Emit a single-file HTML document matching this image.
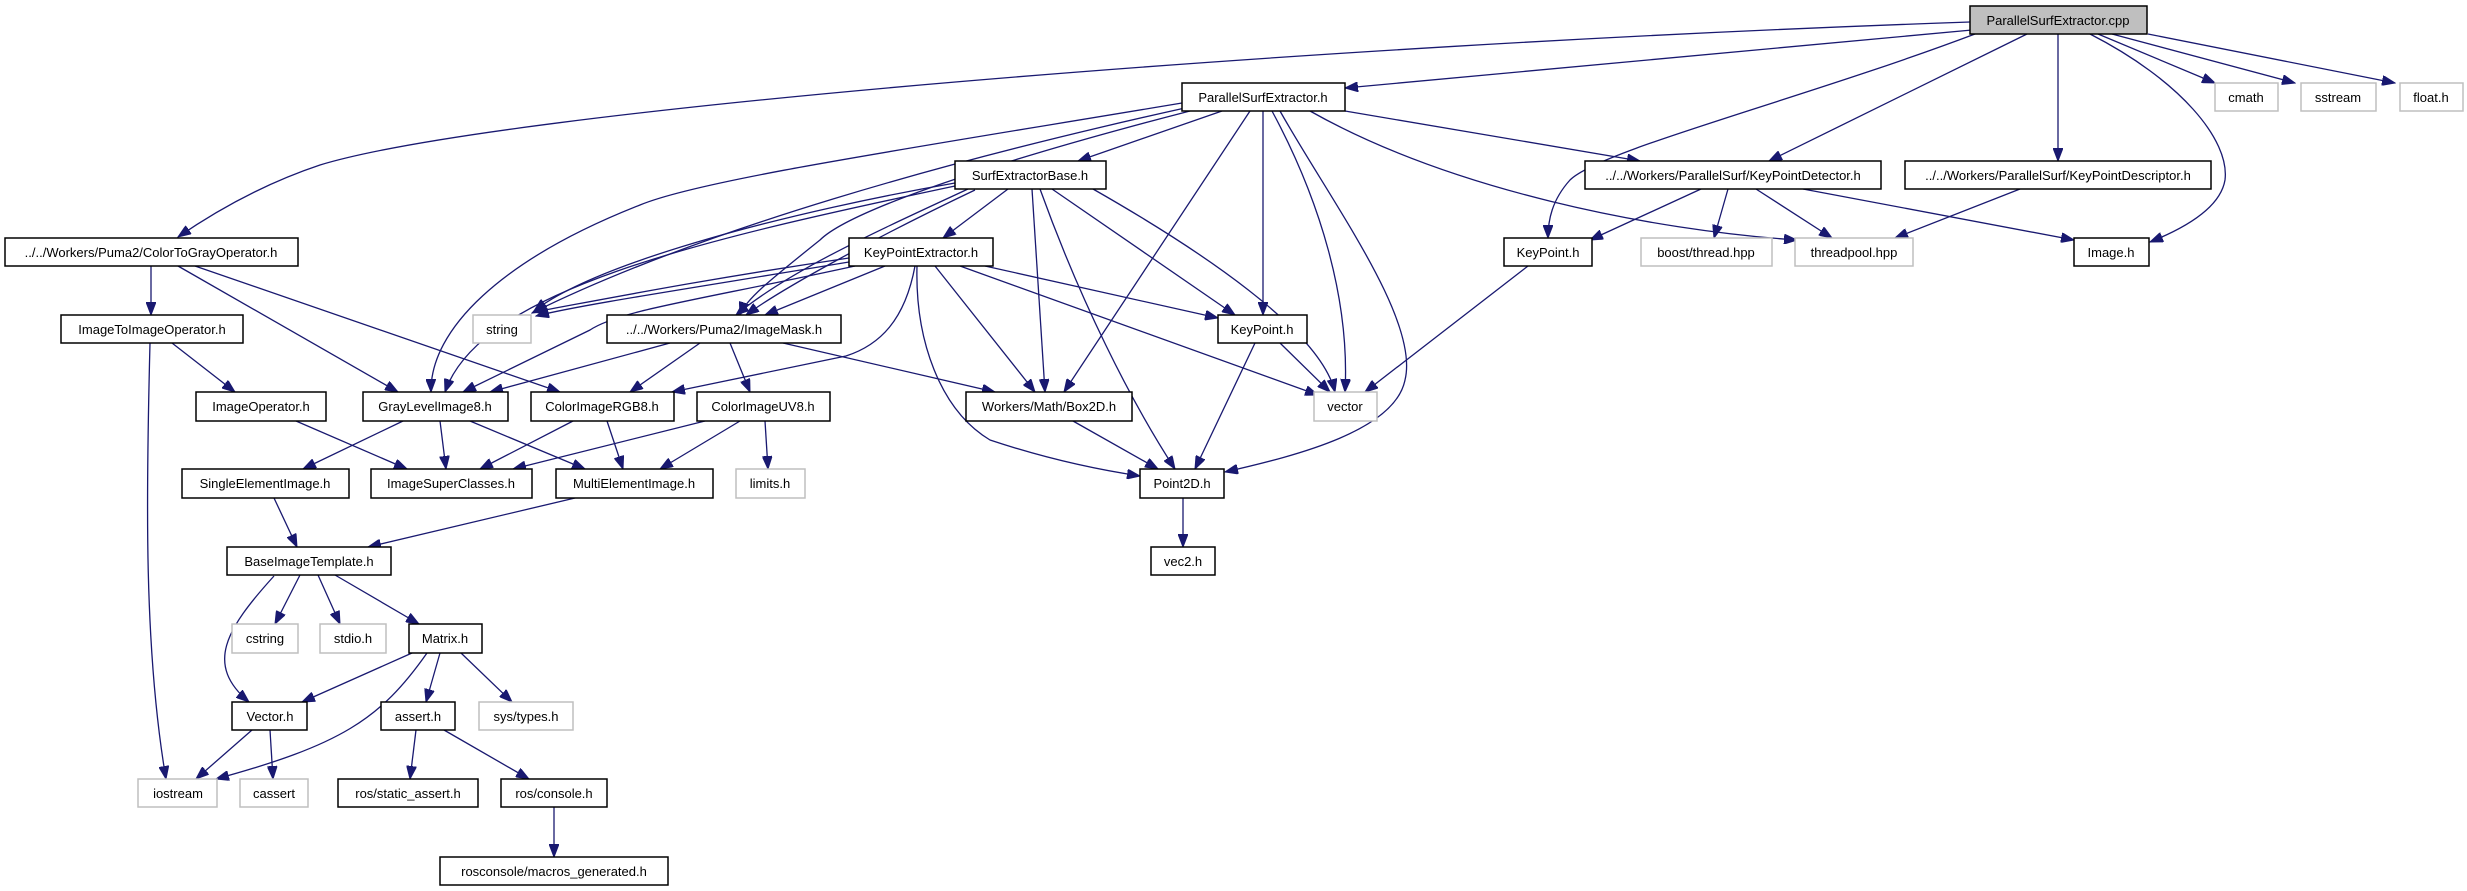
<!DOCTYPE html>
<html><head><meta charset="utf-8"><style>
html,body{margin:0;padding:0;background:#fff}
svg{display:block}
text{font-family:"Liberation Sans","DejaVu Sans",sans-serif;font-size:13px;fill:#000}
.n{fill:#fff;stroke:#000;stroke-width:1.5}
.g{fill:#fff;stroke:#bfbfbf;stroke-width:1.5}
.e{fill:none;stroke:#191970;stroke-width:1.3}
</style></head><body>
<svg width="2467" height="891" viewBox="0 0 2467 891" xmlns="http://www.w3.org/2000/svg">
<defs>
<marker id="a" markerUnits="userSpaceOnUse" markerWidth="14" markerHeight="10" refX="13" refY="5" orient="auto">
<path d="M0,0 L13,5 L0,10 z" fill="#191970" stroke="#191970"/>
</marker>
</defs>
<g marker-end="url(#a)">
<!-- cpp -->
<path class="e" d="M1970,22 C1300,45 500,110 320,165 C260,185 210,215 178,237"/>
<path class="e" d="M1972,30 L1345,88"/>
<path class="e" d="M1975,34 C1800,100 1600,150 1570,180 C1552,200 1548,220 1548,238"/>
<path class="e" d="M2027,34 L1769,161"/>
<path class="e" d="M2058,34 L2058,161"/>
<path class="e" d="M2090,34 C2180,80 2230,140 2225,180 C2220,210 2180,230 2150,242"/>
<path class="e" d="M2098,34 L2215,83"/>
<path class="e" d="M2112,34 L2295,83"/>
<path class="e" d="M2148,34 L2395,83"/>
<!-- PSE.h -->
<path class="e" d="M1222,111 L1078,161"/>
<path class="e" d="M1345,111 L1640,161"/>
<path class="e" d="M1310,111 C1450,190 1650,230 1797,240"/>
<path class="e" d="M1182,103 C900,150 700,180 640,205 C500,260 430,330 431,392"/>
<path class="e" d="M1185,108 C950,160 700,230 532,313"/>
<path class="e" d="M1190,111 C1000,160 850,210 820,240 C770,280 745,300 740,315"/>
<path class="e" d="M1250,111 L1064,392"/>
<path class="e" d="M1263,111 L1263,315"/>
<path class="e" d="M1272,111 C1320,200 1350,300 1345,392"/>
<path class="e" d="M1280,111 C1330,200 1420,320 1405,380 C1395,430 1300,455 1225,472"/>
<!-- SEB -->
<path class="e" d="M1008,189 L943,238"/>
<path class="e" d="M955,183 C800,210 600,260 534,311"/>
<path class="e" d="M955,186 C700,240 480,290 445,392"/>
<path class="e" d="M968,189 C880,230 790,270 736,315"/>
<path class="e" d="M975,190 C870,240 780,290 746,315"/>
<path class="e" d="M1032,189 L1045,392"/>
<path class="e" d="M1040,189 C1080,300 1130,400 1175,469"/>
<path class="e" d="M1052,189 L1235,315"/>
<path class="e" d="M1093,189 C1200,250 1320,330 1335,392"/>
<!-- KPE -->
<path class="e" d="M849,258 C700,280 600,300 534,312"/>
<path class="e" d="M849,262 C680,290 580,305 536,316"/>
<path class="e" d="M855,266 C700,300 620,310 590,330 L463,392"/>
<path class="e" d="M885,266 L765,315"/>
<path class="e" d="M915,266 C905,320 880,345 846,356 L672,392"/>
<path class="e" d="M935,266 L1035,392"/>
<path class="e" d="M985,266 L1218,318"/>
<path class="e" d="M960,266 L1318,395"/>
<path class="e" d="M917,266 C915,340 940,410 990,440 C1050,460 1100,470 1140,476"/>
<!-- KPDet / KPDesc -->
<path class="e" d="M1701,189 L1590,240"/>
<path class="e" d="M1728,189 L1714,238"/>
<path class="e" d="M1756,189 L1832,238"/>
<path class="e" d="M1803,189 L2074,240"/>
<path class="e" d="M2020,189 L1895,238"/>
<path class="e" d="M1528,266 L1365,392"/>
<path class="e" d="M1280,343 L1330,392"/>
<path class="e" d="M1255,343 L1195,469"/>
<!-- CTG -->
<path class="e" d="M151,266 L151,315"/>
<path class="e" d="M178,266 L398,392"/>
<path class="e" d="M195,266 L560,392"/>
<path class="e" d="M172,343 L235,392"/>
<path class="e" d="M150,343 C146,500 144,650 166,779"/>
<!-- ImageMask -->
<path class="e" d="M670,343 L490,392"/>
<path class="e" d="M700,343 L630,392"/>
<path class="e" d="M730,343 L750,392"/>
<path class="e" d="M783,343 L995,392"/>
<!-- level 5 -->
<path class="e" d="M296,421 L407,469"/>
<path class="e" d="M403,421 L303,469"/>
<path class="e" d="M440,421 L446,469"/>
<path class="e" d="M470,421 L585,469"/>
<path class="e" d="M573,421 L480,469"/>
<path class="e" d="M607,421 L623,469"/>
<path class="e" d="M705,421 L513,469"/>
<path class="e" d="M740,421 L660,469"/>
<path class="e" d="M765,421 L768,469"/>
<path class="e" d="M1073,421 L1158,469"/>
<path class="e" d="M1183,498 L1183,547"/>
<path class="e" d="M274,498 L297,547"/>
<path class="e" d="M575,498 L368,547"/>
<!-- BIT -->
<path class="e" d="M274,576 C225,630 205,665 249,702"/>
<path class="e" d="M300,575 L275,624"/>
<path class="e" d="M318,575 L340,624"/>
<path class="e" d="M335,575 L419,624"/>
<!-- Matrix -->
<path class="e" d="M412,653 L302,702"/>
<path class="e" d="M427,653 C380,720 340,745 216,779"/>
<path class="e" d="M440,653 L426,702"/>
<path class="e" d="M461,653 L512,702"/>
<path class="e" d="M252,730 L196,779"/>
<path class="e" d="M270,730 L273,779"/>
<path class="e" d="M416,730 L410,779"/>
<path class="e" d="M444,730 L529,779"/>
<path class="e" d="M554,807 L554,857"/>
</g>
<!-- nodes -->
<rect x="1970" y="6" width="177" height="28" fill="#bfbfbf" stroke="#000" stroke-width="1.5"/><text x="2058" y="25" text-anchor="middle">ParallelSurfExtractor.cpp</text>
<rect class="g" x="2215" y="83" width="63" height="28"/><text x="2246" y="102" text-anchor="middle">cmath</text>
<rect class="g" x="2301" y="83" width="75" height="28"/><text x="2338" y="102" text-anchor="middle">sstream</text>
<rect class="g" x="2400" y="83" width="63" height="28"/><text x="2431" y="102" text-anchor="middle">float.h</text>
<rect class="n" x="1182" y="83" width="163" height="28"/><text x="1263" y="102" text-anchor="middle">ParallelSurfExtractor.h</text>
<rect class="n" x="955" y="161" width="151" height="28"/><text x="1030" y="180" text-anchor="middle">SurfExtractorBase.h</text>
<rect class="n" x="1585" y="161" width="296" height="28"/><text x="1733" y="180" text-anchor="middle">../../Workers/ParallelSurf/KeyPointDetector.h</text>
<rect class="n" x="1905" y="161" width="306" height="28"/><text x="2058" y="180" text-anchor="middle">../../Workers/ParallelSurf/KeyPointDescriptor.h</text>
<rect class="n" x="5" y="238" width="293" height="28"/><text x="151" y="257" text-anchor="middle">../../Workers/Puma2/ColorToGrayOperator.h</text>
<rect class="n" x="849" y="238" width="144" height="28"/><text x="921" y="257" text-anchor="middle">KeyPointExtractor.h</text>
<rect class="n" x="1504" y="238" width="88" height="28"/><text x="1548" y="257" text-anchor="middle">KeyPoint.h</text>
<rect class="g" x="1641" y="238" width="131" height="28"/><text x="1706" y="257" text-anchor="middle">boost/thread.hpp</text>
<rect class="g" x="1795" y="238" width="118" height="28"/><text x="1854" y="257" text-anchor="middle">threadpool.hpp</text>
<rect class="n" x="2074" y="238" width="75" height="28"/><text x="2111" y="257" text-anchor="middle">Image.h</text>
<rect class="n" x="61" y="315" width="182" height="28"/><text x="152" y="334" text-anchor="middle">ImageToImageOperator.h</text>
<rect class="g" x="473" y="315" width="58" height="28"/><text x="502" y="334" text-anchor="middle">string</text>
<rect class="n" x="607" y="315" width="234" height="28"/><text x="724" y="334" text-anchor="middle">../../Workers/Puma2/ImageMask.h</text>
<rect class="n" x="1218" y="315" width="89" height="28"/><text x="1262" y="334" text-anchor="middle">KeyPoint.h</text>
<rect class="n" x="196" y="392" width="130" height="29"/><text x="261" y="411" text-anchor="middle">ImageOperator.h</text>
<rect class="n" x="363" y="392" width="145" height="29"/><text x="435" y="411" text-anchor="middle">GrayLevelImage8.h</text>
<rect class="n" x="531" y="392" width="143" height="29"/><text x="602" y="411" text-anchor="middle">ColorImageRGB8.h</text>
<rect class="n" x="697" y="392" width="133" height="29"/><text x="763" y="411" text-anchor="middle">ColorImageUV8.h</text>
<rect class="n" x="966" y="392" width="166" height="29"/><text x="1049" y="411" text-anchor="middle">Workers/Math/Box2D.h</text>
<rect class="g" x="1314" y="392" width="63" height="29"/><text x="1345" y="411" text-anchor="middle">vector</text>
<rect class="n" x="182" y="469" width="167" height="29"/><text x="265" y="488" text-anchor="middle">SingleElementImage.h</text>
<rect class="n" x="371" y="469" width="161" height="29"/><text x="451" y="488" text-anchor="middle">ImageSuperClasses.h</text>
<rect class="n" x="556" y="469" width="157" height="29"/><text x="634" y="488" text-anchor="middle">MultiElementImage.h</text>
<rect class="g" x="736" y="469" width="69" height="29"/><text x="770" y="488" text-anchor="middle">limits.h</text>
<rect class="n" x="1140" y="469" width="84" height="29"/><text x="1182" y="488" text-anchor="middle">Point2D.h</text>
<rect class="n" x="227" y="547" width="164" height="28"/><text x="309" y="566" text-anchor="middle">BaseImageTemplate.h</text>
<rect class="n" x="1151" y="547" width="64" height="28"/><text x="1183" y="566" text-anchor="middle">vec2.h</text>
<rect class="g" x="232" y="624" width="66" height="29"/><text x="265" y="643" text-anchor="middle">cstring</text>
<rect class="g" x="320" y="624" width="66" height="29"/><text x="353" y="643" text-anchor="middle">stdio.h</text>
<rect class="n" x="409" y="624" width="73" height="29"/><text x="445" y="643" text-anchor="middle">Matrix.h</text>
<rect class="n" x="232" y="702" width="75" height="28"/><text x="270" y="721" text-anchor="middle">Vector.h</text>
<rect class="n" x="381" y="702" width="74" height="28"/><text x="418" y="721" text-anchor="middle">assert.h</text>
<rect class="g" x="479" y="702" width="94" height="28"/><text x="526" y="721" text-anchor="middle">sys/types.h</text>
<rect class="g" x="138" y="779" width="79" height="28"/><text x="178" y="798" text-anchor="middle">iostream</text>
<rect class="g" x="240" y="779" width="68" height="28"/><text x="274" y="798" text-anchor="middle">cassert</text>
<rect class="n" x="338" y="779" width="140" height="28"/><text x="408" y="798" text-anchor="middle">ros/static_assert.h</text>
<rect class="n" x="501" y="779" width="106" height="28"/><text x="554" y="798" text-anchor="middle">ros/console.h</text>
<rect class="n" x="440" y="857" width="228" height="28"/><text x="554" y="876" text-anchor="middle">rosconsole/macros_generated.h</text>
</svg>
</body></html>
